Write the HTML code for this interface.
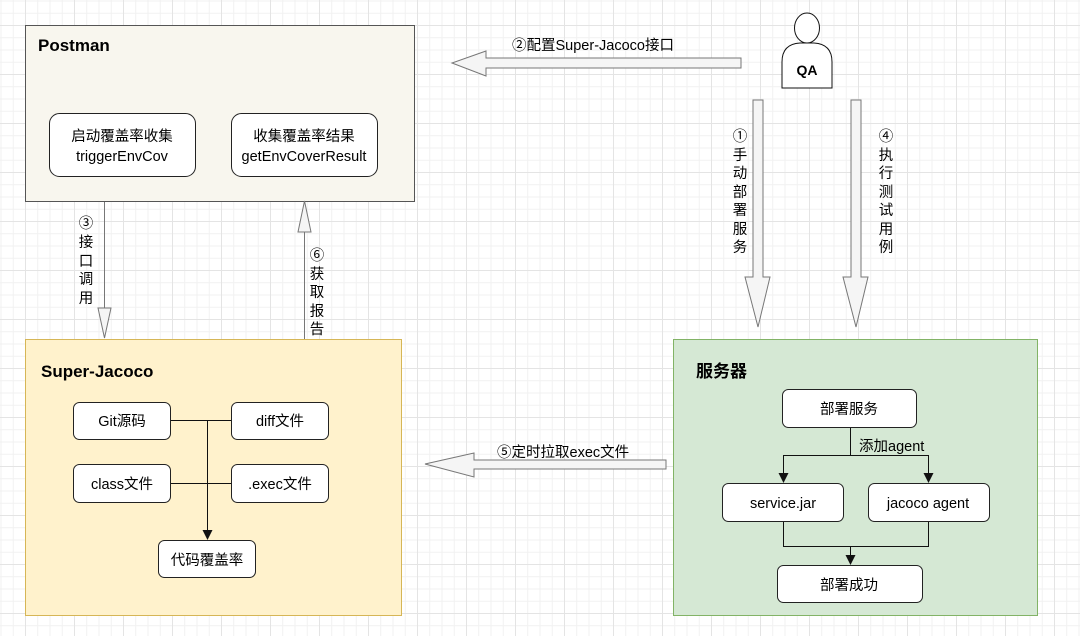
<!DOCTYPE html>
<html><head><meta charset="utf-8"><style>
body{margin:0;}
.c{position:relative;width:1080px;height:636px;overflow:hidden;background-color:#fff;
background-image:linear-gradient(#e4e4e4 1px,transparent 1px),linear-gradient(90deg,#e4e4e4 1px,transparent 1px),linear-gradient(#f1f1f1 1px,transparent 1px),linear-gradient(90deg,#f1f1f1 1px,transparent 1px);
background-size:49px 49px,49px 49px,12.25px 12.25px,12.25px 12.25px;background-position:25px 25px,25px 25px,25px 25px,25px 25px;
font-family:"Liberation Sans","Noto Sans CJK SC",sans-serif;}
svg{position:absolute;left:0;top:0}
</style></head><body><div class="c">
<svg width="1080" height="636" viewBox="0 0 1080 636" font-family="Liberation Sans, Noto Sans CJK SC, sans-serif">
<!-- Postman -->
<rect x="25.5" y="25.5" width="389" height="176" fill="#f8f6ee" stroke="#555" stroke-width="1"/>
<text x="38" y="51" font-size="17" font-weight="bold">Postman</text>
<rect x="49.5" y="113.5" width="146" height="63" rx="10" fill="#fff" stroke="#222"/>
<text x="122" y="141" font-size="14.5" text-anchor="middle">启动覆盖率收集</text>
<text x="122" y="161" font-size="14.5" text-anchor="middle">triggerEnvCov</text>
<rect x="231.5" y="113.5" width="146" height="63" rx="10" fill="#fff" stroke="#222"/>
<text x="304" y="141" font-size="14.5" text-anchor="middle">收集覆盖率结果</text>
<text x="304" y="161" font-size="14.5" text-anchor="middle">getEnvCoverResult</text>
<!-- arrow 3 -->
<line x1="104.5" y1="202" x2="104.5" y2="308" stroke="#777"/>
<polygon points="98,308 111,308 104.5,338" fill="#f5f5f5" stroke="#777"/>
<g font-size="14.5" text-anchor="middle"><text x="86" y="228">③</text><text x="86" y="247">接</text><text x="86" y="266">口</text><text x="86" y="284">调</text><text x="86" y="303">用</text></g>
<!-- arrow 6 -->
<line x1="304.5" y1="232" x2="304.5" y2="339" stroke="#777"/>
<polygon points="298,232 311,232 304.5,201" fill="#f5f5f5" stroke="#777"/>
<g font-size="14.5" text-anchor="middle"><text x="317" y="260">⑥</text><text x="317" y="279">获</text><text x="317" y="297">取</text><text x="317" y="316">报</text><text x="317" y="334">告</text></g>
<!-- arrow 2 -->
<polygon points="741,58 486,58 486,51 452,63 486,76 486,68 741,68" fill="#f5f5f5" stroke="#777"/>
<text x="512" y="50" font-size="14.5">②配置Super-Jacoco接口</text>
<!-- QA -->
<ellipse cx="807" cy="28" rx="12.5" ry="15" fill="#fff" stroke="#111"/>
<path d="M782,88 L782,62 Q782,44 800,43 L814,43 Q832,44 832,62 L832,88 Z" fill="#fff" stroke="#111"/>
<text x="807" y="75" font-size="14" font-weight="bold" text-anchor="middle">QA</text>
<!-- arrow 1 -->
<polygon points="753,100 763,100 763,277 770,277 758,327 745,277 753,277" fill="#f5f5f5" stroke="#777"/>
<g font-size="14.5" text-anchor="middle"><text x="740" y="141">①</text><text x="740" y="160">手</text><text x="740" y="178">动</text><text x="740" y="197">部</text><text x="740" y="215">署</text><text x="740" y="234">服</text><text x="740" y="252">务</text></g>
<!-- arrow 4 -->
<polygon points="851,100 861,100 861,277 868,277 856,327 843,277 851,277" fill="#f5f5f5" stroke="#777"/>
<g font-size="14.5" text-anchor="middle"><text x="886" y="141">④</text><text x="886" y="160">执</text><text x="886" y="178">行</text><text x="886" y="197">测</text><text x="886" y="215">试</text><text x="886" y="234">用</text><text x="886" y="252">例</text></g>
<!-- Super-Jacoco -->
<rect x="25.5" y="339.5" width="376" height="276" fill="#fff2cc" stroke="#d6b656"/>
<text x="41" y="377" font-size="17" font-weight="bold">Super-Jacoco</text>
<g stroke="#111" fill="none"><line x1="170" y1="420.5" x2="231" y2="420.5"/><line x1="170" y1="483.5" x2="231" y2="483.5"/><line x1="207.5" y1="420" x2="207.5" y2="532"/></g>
<polygon points="202.5,530 212.5,530 207.5,540" fill="#111"/>
<g fill="#fff" stroke="#222"><rect x="73.5" y="402.5" width="97" height="37" rx="6"/><rect x="231.5" y="402.5" width="97" height="37" rx="6"/><rect x="73.5" y="464.5" width="97" height="38" rx="6"/><rect x="231.5" y="464.5" width="97" height="38" rx="6"/><rect x="158.5" y="540.5" width="97" height="37" rx="6"/></g>
<g font-size="14.5" text-anchor="middle"><text x="122" y="426">Git源码</text><text x="280" y="426">diff文件</text><text x="122" y="489">class文件</text><text x="280" y="489">.exec文件</text><text x="207" y="565">代码覆盖率</text></g>
<!-- arrow 5 -->
<polygon points="666,460 474,460 474,453 425,464 474,477 474,469 666,469" fill="#f5f5f5" stroke="#777"/>
<text x="497" y="457" font-size="14.5">⑤定时拉取exec文件</text>
<!-- server -->
<rect x="673.5" y="339.5" width="364" height="276" fill="#d5e8d4" stroke="#82b366"/>
<text x="696" y="377" font-size="17" font-weight="bold">服务器</text>
<g stroke="#111" fill="none"><polyline points="850.5,427 850.5,455.5"/><polyline points="783.5,475 783.5,455.5 928.5,455.5 928.5,475"/><polyline points="783.5,521 783.5,546.5 928.5,546.5 928.5,521"/><line x1="850.5" y1="546" x2="850.5" y2="557"/></g>
<g fill="#111"><polygon points="778.5,473 788.5,473 783.5,483"/><polygon points="923.5,473 933.5,473 928.5,483"/><polygon points="845.5,555 855.5,555 850.5,565"/></g>
<g fill="#fff" stroke="#222"><rect x="782.5" y="389.5" width="134" height="38" rx="6"/><rect x="722.5" y="483.5" width="121" height="38" rx="6"/><rect x="868.5" y="483.5" width="121" height="38" rx="6"/><rect x="777.5" y="565.5" width="145" height="37" rx="6"/></g>
<text x="859" y="451" font-size="14.5">添加agent</text>
<g font-size="14.5" text-anchor="middle"><text x="849" y="414">部署服务</text><text x="783" y="508">service.jar</text><text x="928" y="508">jacoco agent</text><text x="849" y="590">部署成功</text></g>
</svg>
</div></body></html>
